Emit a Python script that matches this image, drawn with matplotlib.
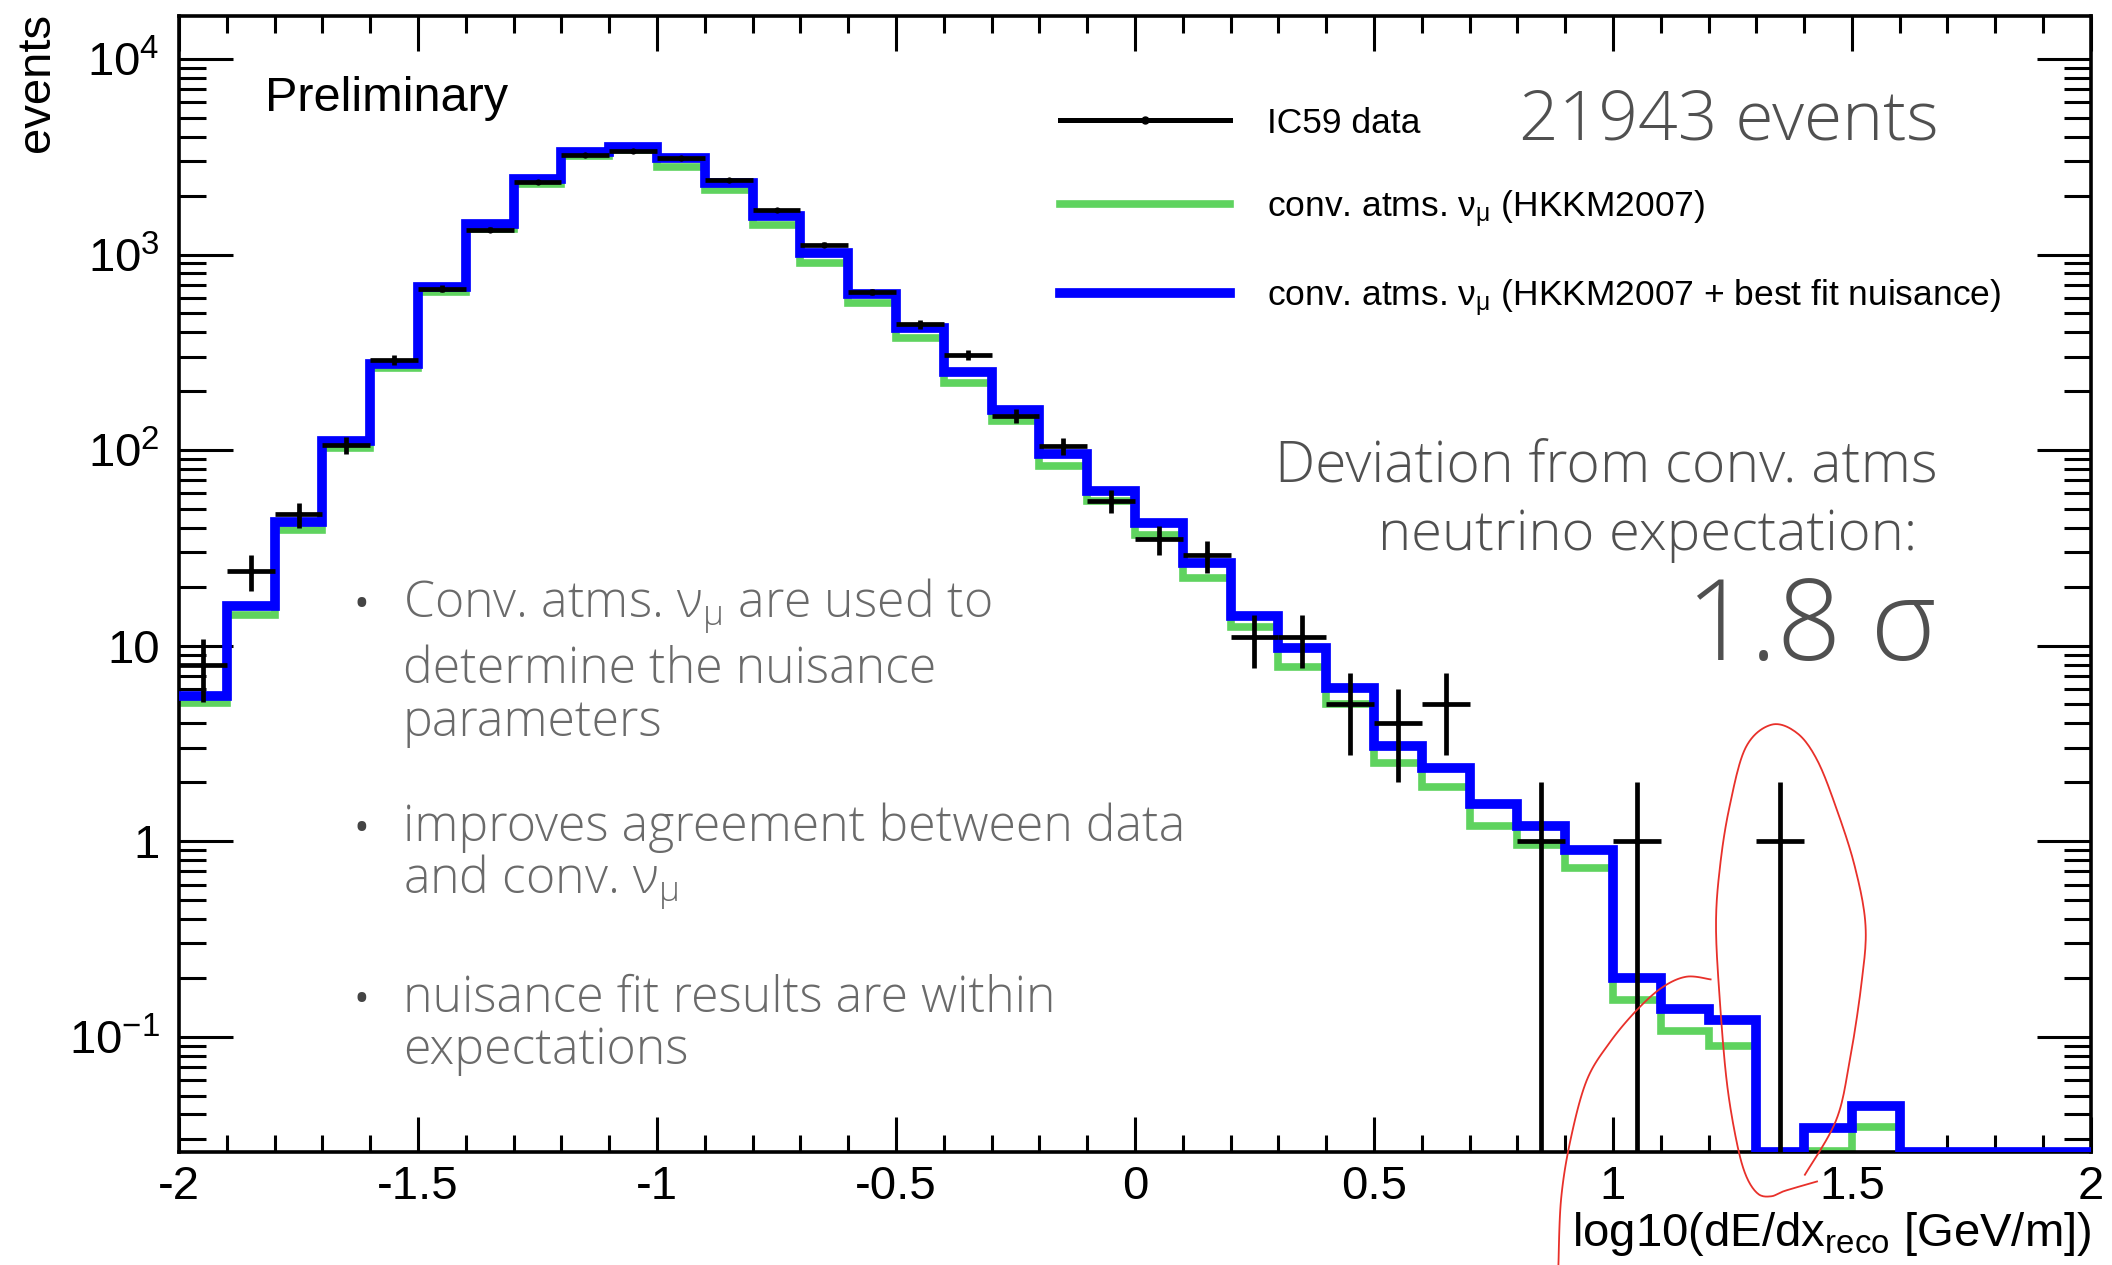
import numpy as np
import matplotlib
matplotlib.use("Agg")
import matplotlib.pyplot as plt
from matplotlib.ticker import FixedLocator, FixedFormatter, LogLocator, NullFormatter, MultipleLocator
from matplotlib.lines import Line2D

plt.rcParams['font.family'] = ['Liberation Sans', 'DejaVu Sans']
plt.rcParams['axes.unicode_minus'] = False

# ---------------- data ----------------
bin_edges = np.linspace(-2.0, 2.0, 41)

fit_nuisance = [5.5, 15.9, 43, 111, 277, 683, 1436, 2437, 3337, 3565,
                3100, 2312, 1567, 1019, 626, 420, 250, 161, 96, 61.5,
                42.4, 26.4, 14.2, 9.7, 6.07, 3.05, 2.37, 1.54, 1.20, 0.90,
                0.20, 0.138, 0.121, 0, 0.034, 0.044, 0, 0, 0, 0]

hkkm2007 = [5.1, 14.4, 39, 103, 262, 645, 1350, 2300, 3200, 3420,
            2800, 2137, 1410, 907, 568, 372, 220, 140, 83, 54.7,
            36.9, 22.2, 12.4, 7.8, 5.0, 2.5, 1.89, 1.2, 0.96, 0.73,
            0.154, 0.107, 0.090, 0, 0.026, 0.0345, 0, 0, 0, 0]

ic59_data = [8, 24, 47, 106, 289, 670, 1340, 2345, 3240, 3365,
             3112, 2404, 1694, 1125, 643, 439, 306, 150, 105, 55,
             35, 29, 11, 11, 5, 4, 5, 0, 1, 0,
             1, 0, 0, 1, 0, 0, 0, 0, 0, 0]

x_tick_values = [-2, -1.5, -1, -0.5, 0, 0.5, 1, 1.5, 2]
x_tick_labels = ["-2", "-1.5", "-1", "-0.5", "0", "0.5", "1", "1.5", "2"]
y_tick_values = [0.1, 1, 10, 100, 1000, 10000]
y_tick_labels = [r"$\mathregular{10^{-1}}$", "1", "10", r"$\mathregular{10^{2}}$",
                 r"$\mathregular{10^{3}}$", r"$\mathregular{10^{4}}$"]

legend_labels = ["IC59 data",
                 r"conv. atms. $\mathregular{ν_{μ}}$ (HKKM2007)",
                 r"conv. atms. $\mathregular{ν_{μ}}$ (HKKM2007 + best fit nuisance)"]

# ---------------- style ----------------
GREEN = "#5fd35f"
BLUE = "#0000ff"
GREY_HEAD = "#505050"
GREY_BUL = "#6a6a6a"
YMIN, YMAX = 0.0257, 16600

fig = plt.figure(figsize=(21.12, 12.65), dpi=100)
ax = fig.add_axes([0.0848, 0.0893, 0.9052, 0.8981])
ax.set_yscale('log')
ax.set_xlim(-2, 2)
ax.set_ylim(YMIN, YMAX)

edges = np.asarray(bin_edges)
green_v = np.asarray(hkkm2007, float)
blue_v = np.asarray(fit_nuisance, float)
data_v = np.asarray(ic59_data, float)

ax.stairs(np.where(green_v > 0, green_v, YMIN), edges, baseline=None,
          color=GREEN, lw=5.5, zorder=2)
ax.stairs(np.where(blue_v > 0, blue_v, YMIN), edges, baseline=None,
          color=BLUE, lw=7, zorder=3)

centers = 0.5 * (edges[:-1] + edges[1:])
half_w = 0.5 * np.diff(edges)
m = data_v > 0
ax.errorbar(centers[m], data_v[m], xerr=half_w[m], yerr=np.sqrt(data_v[m]),
            fmt='o', ms=4.5, color='black', ecolor='black', elinewidth=3.4,
            capsize=0, mew=0, zorder=4)

# axes styling (ROOT like)
for s in ax.spines.values():
    s.set_linewidth(2.6)
ax.xaxis.set_major_locator(FixedLocator(x_tick_values))
ax.xaxis.set_major_formatter(FixedFormatter(x_tick_labels))
ax.xaxis.set_minor_locator(MultipleLocator(0.1))
ax.yaxis.set_major_locator(FixedLocator(y_tick_values))
ax.yaxis.set_major_formatter(FixedFormatter(y_tick_labels))
ax.yaxis.set_minor_locator(LogLocator(base=10, subs=np.arange(2, 10), numticks=30))
ax.yaxis.set_minor_formatter(NullFormatter())
ax.tick_params(which='both', direction='in', top=True, right=True, width=2.2,
               labelsize=34)
ax.tick_params(axis='x', which='major', length=25, pad=9)
ax.tick_params(axis='x', which='minor', length=12.5)
ax.tick_params(axis='y', which='major', length=39, pad=14)
ax.tick_params(axis='y', which='minor', length=19.5)

ax.set_xlabel(r"log10(dE/dx$\mathregular{_{reco}}$ [GeV/m])", fontsize=34,
              loc='right')
ax.xaxis.set_label_coords(1.0, -0.051)
ax.set_ylabel("events", fontsize=34, loc='top')
ax.yaxis.set_label_coords(-0.063, 1.003)

# legend
handles = [Line2D([], [], color='black', lw=3.6, marker='o', ms=5),
           Line2D([], [], color=GREEN, lw=5.5),
           Line2D([], [], color=BLUE, lw=7)]
ax.legend(handles, legend_labels, loc='upper left', bbox_to_anchor=(0.4608, 0.920),
          frameon=False, fontsize=25.5, handlelength=4.8, handletextpad=1.05,
          labelspacing=1.37, borderpad=0, borderaxespad=0, numpoints=1)

# texts
ax.text(0.045, 0.916, "Preliminary", transform=ax.transAxes, fontsize=35,
        ha='left', va='baseline')

hfont = dict(family=['Open Sans', 'DejaVu Sans'], fontweight='light', color=GREY_HEAD)
ax.text(0.9205, 0.891, "21943 events", transform=ax.transAxes, fontsize=50,
        ha='right', va='baseline', **hfont)
ax.text(0.920, 0.590, "Deviation from conv. atms", transform=ax.transAxes,
        fontsize=41, ha='right', va='baseline', **hfont)
ax.text(0.909, 0.530, "neutrino expectation:", transform=ax.transAxes,
        fontsize=40.5, ha='right', va='baseline', **hfont)
ax.text(0.919, 0.433, "1.8 σ", transform=ax.transAxes, fontsize=81,
        ha='right', va='baseline', **hfont)

bfont = dict(family=['Open Sans', 'DejaVu Sans'], fontweight='light', color=GREY_BUL)
bullet_lines = [(0.471, r"Conv. atms. $\mathregular{ν_{μ}}$ are used to", True),
                (0.413, "determine the nuisance", False),
                (0.3666, "parameters", False),
                (0.274, "improves agreement between data", True),
                (0.228, r"and conv. $\mathregular{ν_{μ}}$", False),
                (0.1236, "nuisance fit results are within", True),
                (0.0774, "expectations", False)]
for yb, txt, has_bullet in bullet_lines:
    ax.text(0.117, yb, txt, transform=ax.transAxes, fontsize=36,
            ha='left', va='baseline', **bfont)
    if has_bullet:
        ax.text(0.0952, yb, "•", transform=ax.transAxes, fontsize=30,
                ha='center', va='baseline', family=['Open Sans', 'DejaVu Sans'],
                color="#444444")

# hand-drawn red annotation (figure coordinates of the reference, 1568x939 scale)
def catmull(pts, n=12):
    p = np.asarray(pts, float)
    p = np.vstack([p[0], p, p[-1]])
    out = []
    for i in range(1, len(p) - 2):
        p0, p1, p2, p3 = p[i - 1], p[i], p[i + 1], p[i + 2]
        for t in np.linspace(0, 1, n, endpoint=False):
            t2, t3 = t * t, t * t * t
            out.append(0.5 * ((2 * p1) + (-p0 + p2) * t +
                              (2 * p0 - 5 * p1 + 4 * p2 - p3) * t2 +
                              (-p0 + 3 * p1 - 3 * p2 + p3) * t3))
    out.append(p[-2])
    return np.array(out)

loop_pts = [(1340, 872), (1363, 832), (1373, 789), (1382, 730), (1385, 687),
            (1377, 643), (1363, 599), (1349, 564), (1334, 544), (1315, 538),
            (1296, 555), (1284, 599), (1277, 643), (1274, 687), (1277, 745),
            (1282, 803), (1289, 846), (1296, 872), (1305, 886), (1315, 888),
            (1325, 884), (1349, 877)]
arc_pts = [(1270, 727), (1252, 725), (1234, 733), (1215, 750), (1195, 774),
           (1178, 802), (1166, 846), (1159, 890), (1157, 939)]
for pts in (loop_pts, arc_pts):
    c = catmull(pts)
    fig.add_artist(Line2D(c[:, 0] / 1568.0, 1 - c[:, 1] / 939.0,
                          transform=fig.transFigure, color="#e8302a", lw=1.3,
                          zorder=10))

fig.savefig("out.png", dpi=100, facecolor='white')
